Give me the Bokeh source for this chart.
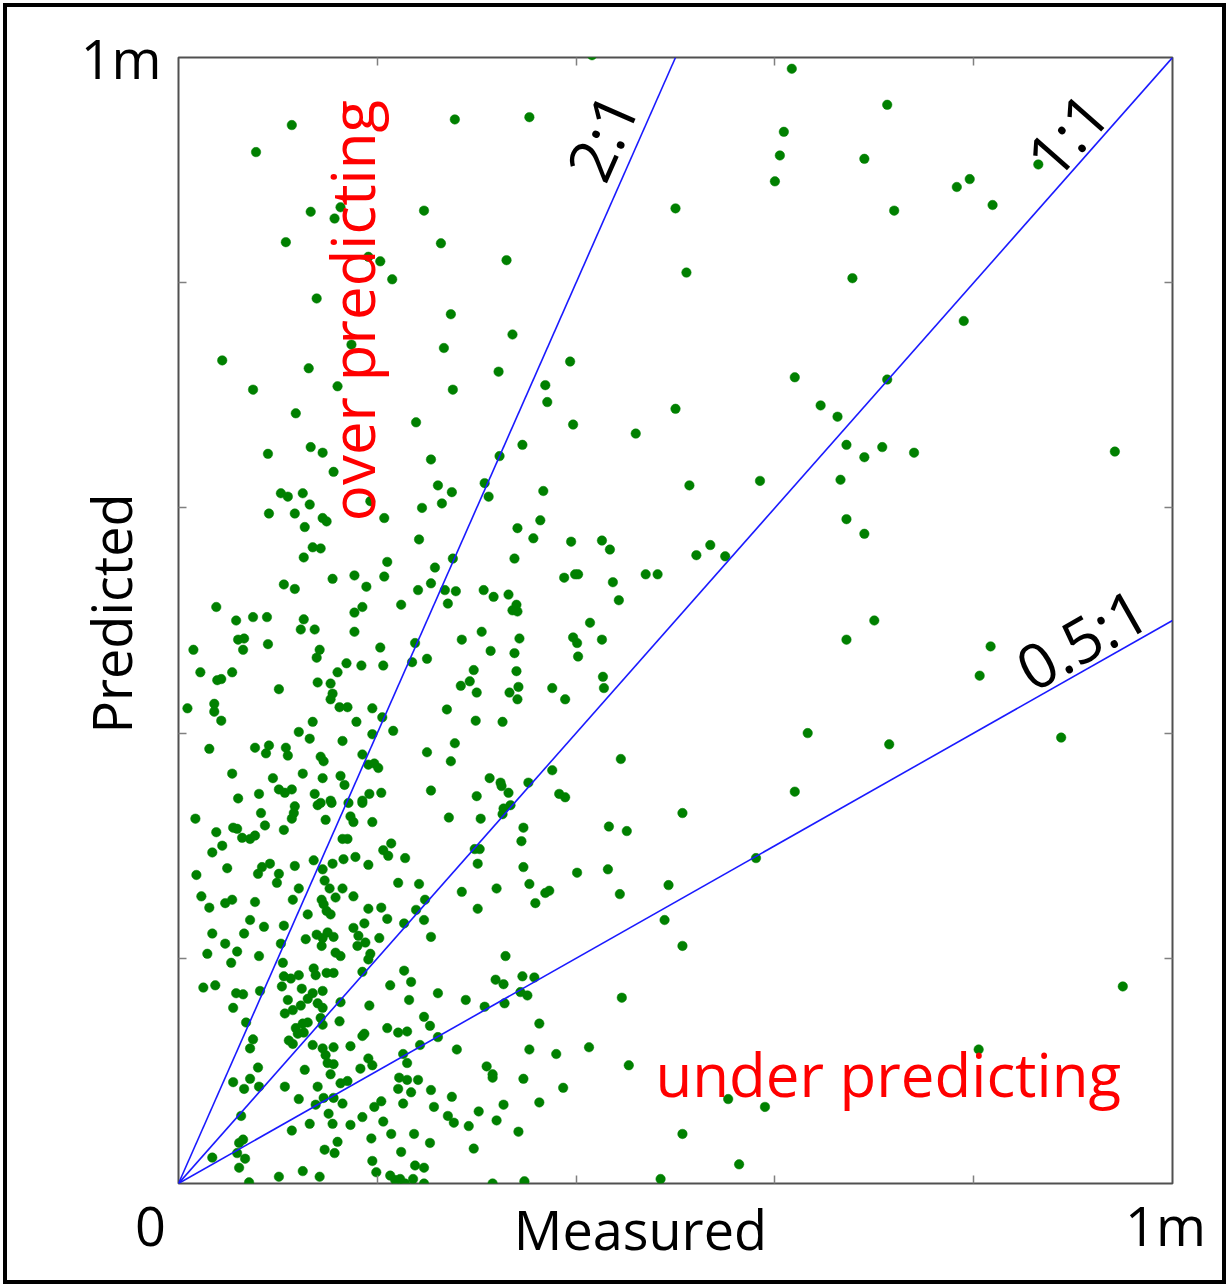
import math
from bokeh.plotting import figure
from bokeh.models import Label, LinearAxis, Range1d, FixedTicker, ColumnDataSource
from bokeh.embed import file_html
from bokeh.resources import INLINE

# ---- data (Measured / Predicted, in thousands; 1000 = "1m") ----
measured = [
    114, 78, 278, 353, 133, 163, 157, 247, 108, 264, 191, 203, 330, 215, 139, 274, 336, 174, 267,
    44, 131, 75, 160, 322, 276, 369, 371, 118, 239, 90, 133, 145, 156, 254, 323, 346, 103, 110, 125,
    132, 91, 117, 145, 149, 127, 193, 207, 245, 261, 265, 275, 308, 312, 367, 364, 341, 357, 242, 135,
    143, 126, 210, 276, 258, 338, 106, 117, 155, 177, 189, 207, 241, 254, 268, 279, 307, 317, 332, 388,
    416, 617, 713, 609, 605, 690, 600, 865, 796, 783, 819, 720, 500, 511, 678, 790, 394, 620, 713, 500,
    646, 663, 397, 460, 672, 690, 708, 740, 942, 514, 585, 666, 672, 690, 395, 426, 434, 521, 535, 550,
    470, 482,
    38, 58, 75, 89, 126, 123, 137, 177, 185, 224, 177, 60, 66, 65, 90, 15, 142, 139, 203, 238,
    169, 184, 206, 235, 22, 39, 43, 54, 101, 140, 153, 160, 155, 153, 162, 170, 9, 36, 36, 43,
    195, 205, 135, 179, 121, 132, 195, 216, 165, 31, 77, 91, 88, 108, 110, 143, 146, 185, 191, 197,
    201, 54, 95, 125, 145, 163, 167, 101, 107, 114, 81, 137, 192, 204, 60, 153, 185,
    140, 143, 154, 171, 185, 17, 83, 87, 117, 116, 114, 148, 173, 176, 195, 38, 55, 59, 64, 72,
    77, 106, 165, 170, 44, 34, 206, 214, 211, 228, 49, 84, 92, 80, 101, 99, 117, 136, 145, 155,
    166, 178, 191, 147, 152, 165, 158, 176, 221, 242, 18, 23, 31, 47, 54, 77, 115, 121, 144, 146,
    149, 153, 130, 191, 204, 210, 227, 239, 72, 86, 106, 34, 66, 47, 59, 29, 53, 81, 103, 105,
    128, 139, 145, 150, 156, 144, 158, 163, 176, 181, 187, 188, 180, 202, 193, 191, 227, 234, 213, 232,
    185, 25, 37, 58, 65, 82, 106, 113, 121, 104, 124, 136, 138, 149, 156, 135, 145, 130, 110,
    55, 68, 75, 72, 107, 115, 123, 140, 145, 143, 145, 163, 162, 130, 125, 118, 120, 126, 111, 115,
    135, 145, 156, 148, 150, 156, 153, 173, 185, 187, 192, 210, 221, 230, 243, 226, 230, 191, 195, 183,
    127, 80, 55, 66, 72, 81, 107, 121, 140, 146, 156, 165, 138, 163, 170, 222, 230, 221, 234, 226,
    241, 204, 197, 63, 151, 185, 206, 114, 132, 155, 173, 61, 65, 59, 67, 61, 34, 147, 157, 160,
    194, 214, 237, 224, 195, 238, 199, 101, 125, 142, 71, 213, 218, 223, 228,
    399, 402, 437, 271, 340, 336, 341, 443, 414, 397, 401, 426, 402, 305, 285, 343, 314, 338, 250, 297,
    293, 284, 300, 340, 342, 333, 341, 376, 389, 427, 428, 270, 299, 326, 278, 250, 274, 445, 376, 313,
    324, 325, 332, 352, 254, 300, 383, 389,
    272, 304, 327, 334, 326, 347, 345, 298, 303, 301, 347, 433, 451, 401, 432, 248, 247, 254, 285, 320,
    301, 353, 369, 373, 359, 444, 493, 489, 329, 319, 327, 346, 358, 261, 289, 344, 351, 446,
    308, 328, 247, 253, 261, 280, 363, 353, 380, 413, 453, 310, 316, 316, 347, 387, 254, 275, 257, 271,
    277, 292, 302, 327, 320, 363, 342, 253, 297, 247, 236, 247, 316, 348,
    700, 672, 817, 806, 633, 715, 888, 620, 507, 581, 507, 950, 805, 553, 590, 507, 564, 485,
]
predicted = [
    940, 916, 945, 947, 863, 867, 857, 864, 836, 835, 823, 819, 820, 803, 786, 772, 754, 745, 742,
    731, 724, 705, 708, 721, 705, 709, 694, 684, 676, 648, 654, 649, 632, 643, 646, 656, 613, 610, 613,
    603, 595, 595, 591, 588, 583, 606, 591, 600, 620, 604, 614, 622, 610, 615, 589, 582, 573, 572, 565,
    564, 556, 552, 555, 547, 555, 532, 528, 537, 540, 530, 539, 527, 533, 527, 526, 527, 521, 523, 538,
    1002, 990, 958, 934, 913, 910, 890, 905, 892, 885, 869, 864, 866, 809, 804, 766, 730, 716, 714, 688,
    691, 681, 674, 666, 656, 645, 654, 649, 650, 620, 624, 625, 590, 577, 570, 571, 563, 558, 567, 557,
    541, 541,
    512, 500, 503, 503, 501, 492, 492, 507, 512, 514, 490, 483, 484, 474, 479, 474, 474, 467, 476, 480,
    462, 460, 460, 463, 454, 447, 448, 454, 439, 445, 444, 454, 435, 430, 423, 423, 422, 426, 419, 411,
    422, 414, 410, 410, 401, 395, 399, 402, 393, 386, 387, 389, 382, 387, 380, 379, 375, 381, 372, 373,
    369, 364, 360, 364, 360, 362, 354, 350, 347, 350, 346, 346, 346, 347, 342, 340, 340,
    336, 338, 338, 338, 338, 324, 329, 318, 335, 329, 324, 323, 326, 321, 321, 312, 316, 315, 307, 306,
    309, 314, 306, 306, 300, 294, 296, 302, 291, 289, 280, 281, 284, 275, 275, 267, 282, 287, 279, 284,
    288, 290, 283, 269, 262, 262, 254, 255, 267, 266, 274, 255, 245, 249, 252, 250, 252, 262, 252, 248,
    242, 239, 239, 244, 245, 235, 231, 243, 234, 228, 229, 222, 222, 213, 206, 204, 196, 202, 213, 196,
    217, 221, 218, 223, 219, 211, 205, 202, 227, 220, 231, 214, 211, 218, 204, 199, 189, 179, 176, 163,
    188, 174, 176, 169, 168, 171, 184, 182, 185, 175, 173, 191, 185, 187, 187, 169, 171, 164, 163,
    156, 143, 128, 120, 151, 154, 158, 160, 156, 147, 141, 161, 144, 143, 142, 138, 133, 134, 127, 124,
    123, 120, 121, 114, 107, 106, 97, 122, 131, 133, 158, 138, 134, 135, 123, 115, 107, 111, 105, 102,
    101, 103, 90, 84, 93, 86, 86, 75, 86, 76, 76, 71, 70, 89, 91, 94, 92, 84, 81, 71,
    92, 73, 68, 60, 62, 59, 55, 47, 53, 53, 52, 36, 39, 27, 22, 14, 23, 30, 27, 37,
    40, 44, 44, 28, 20, 16, 10, 6, 11, 6, 1, 7, 3, 4, 0,
    541, 541, 534, 515, 514, 509, 508, 518, 498, 485, 480, 483, 468, 490, 483, 484, 473, 471, 466, 456,
    446, 442, 436, 455, 441, 436, 430, 440, 430, 450, 440, 421, 411, 410, 391, 383, 375, 377, 367, 360,
    356, 353, 347, 356, 349, 344, 346, 343,
    325, 324, 333, 336, 328, 316, 304, 297, 297, 284, 281, 317, 313, 276, 279, 252, 234, 219, 259, 262,
    244, 266, 258, 260, 249, 257, 265, 234, 202, 181, 177, 184, 183, 169, 163, 170, 167, 165,
    157, 160, 148, 140, 130, 119, 142, 119, 115, 121, 105, 104, 97, 94, 93, 85, 83, 77, 68, 60,
    54, 51, 64, 70, 56, 72, 46, 36, 31, 14, 4, 0, 0, 2,
    500, 483, 477, 451, 400, 390, 396, 348, 329, 289, 211, 175, 119, 75, 68, 44, 17, 4,
]
ratio_values = [2.0, 1.0, 0.5]
ratio_labels = ["2:1", "1:1", "0.5:1"]
axis_min, axis_max = 0, 1000
tick_values = [200, 400, 600, 800]
x_label = "Measured"
y_label = "Predicted"
over_text = "over predicting"
under_text = "under predicting"
axis_end_text = "1m"
origin_text = "0"

NB = "\u00a0"

# ---- figure ----
M = 7                                   # outer margin (black frame drawn in it)
W, H = 1229 - 2 * M, 1287 - 2 * M
BL, BR, BT, BB = 178 - M, 57 - M, 57 - M, 104 - M
frame_w, frame_h = W - BL - BR, H - BT - BB

p = figure(width=W, height=H, x_range=Range1d(axis_min, axis_max), y_range=Range1d(axis_min, axis_max),
           output_backend="svg", toolbar_location=None, margin=(M, M, M, M),
           min_border_left=BL, min_border_right=BR, min_border_top=BT, min_border_bottom=BB)
p.grid.visible = False
p.background_fill_color = "white"
p.border_fill_color = "white"
p.outline_line_color = "#505050"
p.outline_line_width = 2
p.styles = {"outline": "4px solid black"}

FONT = "Open Sans"

# tick-mark-only axes on all four sides (ticks point inward)
p.add_layout(LinearAxis(), "above")
p.add_layout(LinearAxis(), "right")
for ax in p.axis:
    ax.ticker = FixedTicker(ticks=tick_values)
    ax.major_tick_in = 8
    ax.major_tick_out = 0
    ax.major_tick_line_color = "#808080"
    ax.major_tick_line_width = 1.5
    ax.minor_tick_line_color = None
    ax.axis_line_color = None
    ax.major_label_text_font_size = "0px"
    ax.major_label_text_color = None
    ax.major_label_standoff = 0

# label axes (no tick marks): "0" / "1m" ends and axis titles
def label_axis(ticks, overrides, title, standoff, title_standoff):
    ax = LinearAxis(ticker=FixedTicker(ticks=ticks), major_label_overrides=overrides,
                    axis_label=title)
    ax.major_tick_line_color = None
    ax.minor_tick_line_color = None
    ax.axis_line_color = None
    ax.major_label_text_font = FONT
    ax.major_label_text_font_size = "54px"
    ax.major_label_text_color = "black"
    ax.major_label_standoff = standoff
    ax.axis_label_text_font = FONT
    ax.axis_label_text_font_size = "54px"
    ax.axis_label_text_font_style = "normal"
    ax.axis_label_text_color = "black"
    ax.axis_label_standoff = title_standoff
    return ax

x_lab_axis = label_axis([axis_min, axis_max],
                        {axis_min: origin_text + NB * 4, axis_max: axis_end_text + NB},
                        x_label + NB * 5, -2, -73)
y_lab_axis = label_axis([axis_max], {axis_max: axis_end_text}, NB + y_label, 11, -70)
p.add_layout(x_lab_axis, "below")
p.add_layout(y_lab_axis, "left")

# points
src = ColumnDataSource(data=dict(x=measured, y=predicted))
p.scatter("x", "y", source=src, size=9.5, fill_color="#008000", line_color="#008000", line_width=0.5)

# ratio lines
x_end = [min(axis_max, axis_max / r) for r in ratio_values]
y_end = [r * xe for r, xe in zip(ratio_values, x_end)]
p.segment(x0=[0] * len(ratio_values), y0=[0] * len(ratio_values), x1=x_end, y1=y_end,
          line_color="#1a1aff", line_width=1.6)

sx = frame_w / axis_max   # px per data unit (x)
sy = frame_h / axis_max   # px per data unit (y)
FL, FB = 178, 1183        # frame left / bottom in page px

def dx(px):
    return (px - FL) / sx

def dy(py):
    return (FB - py) / sy

def lab(text, x, y, size, color="black", align="center", baseline="alphabetic", angle=0.0):
    p.add_layout(Label(x=x, y=y, text=text, text_font=FONT, text_font_size=f"{size}px",
                       text_color=color, text_align=align, text_baseline=baseline, angle=angle))

# region annotations
lab(over_text, dx(351), dy(310), 60, color="#ff0000", angle=math.pi / 2)
lab(under_text, dx(655), dy(1073), 60, color="#ff0000", align="left")

# ratio labels
ratio_centers = [(601, 136), (1066, 134), (1081, 638)]
for r, t, (cx, cy) in zip(ratio_values, ratio_labels, ratio_centers):
    ang = math.atan(r * sy / sx)
    lab(t, dx(cx), dy(cy), 62, align="center", baseline="middle", angle=ang)

open("out.html", "w").write(file_html(p, INLINE))
